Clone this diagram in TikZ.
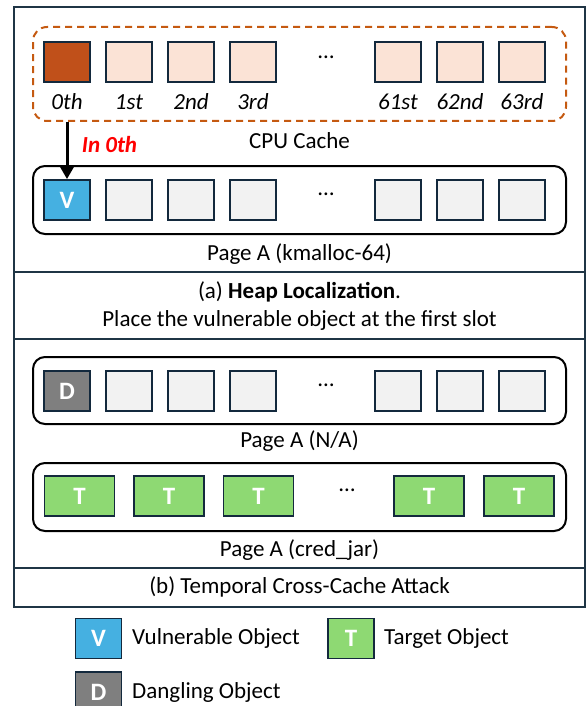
\documentclass[tikz,border=0pt]{standalone}
\usepackage{fontspec}
\setmainfont{Carlito}
\usetikzlibrary{arrows.meta}
\definecolor{slotedge}{HTML}{13293D}
\definecolor{cachefill}{HTML}{FBE3D6}
\definecolor{cachehot}{HTML}{C0501A}
\definecolor{cachedash}{HTML}{C55A11}
\definecolor{slotgrey}{HTML}{F2F2F2}
\definecolor{vblue}{HTML}{45B0E1}
\definecolor{tgreen}{HTML}{8ED973}
\definecolor{dgrey}{HTML}{7F7F7F}
\definecolor{framec}{HTML}{1F3545}
\newcommand{\bigtext}{\fontsize{23}{27}\selectfont}
\tikzset{
  slot/.style={draw=slotedge, line width=1.8pt, fill=slotgrey, minimum width=46pt,
    minimum height=40pt, inner sep=0pt, text=white, font=\fontsize{25}{29}\selectfont\bfseries},
  wideslot/.style={slot, minimum width=70pt, fill=tgreen},
  slotlabel/.style={font=\bigtext\itshape, inner sep=0pt},
  txt/.style={font=\bigtext, inner sep=0pt},
  pagebox/.style={draw=black, line width=2pt, rounded corners=12pt, minimum width=533pt,
    inner sep=0pt},
  framebar/.style={draw=framec, line width=1.6pt},
}
\begin{document}
\begin{tikzpicture}[x=1pt, y=-1pt]
\useasboundingbox (0,0) rectangle (587,706);

% outer frame with section separators
\draw[framebar] (14,7) rectangle (585,607);
\draw[framebar] (14,272) -- (585,272);
\draw[framebar] (14,339) -- (585,339);
\draw[framebar] (14,568) -- (585,568);

% ---------- (a) CPU cache ----------
\node[draw=cachedash, line width=2pt, dash pattern=on 7pt off 5pt, rounded corners=14pt,
  minimum width=533pt, minimum height=94pt, inner sep=0pt] (cache) at (299.5,74) {};
\node[slot, fill=cachehot] (c0) at (67,62) {};
\node[slot, fill=cachefill] (c1) at (129,62) {};
\node[slot, fill=cachefill] (c2) at (191,62) {};
\node[slot, fill=cachefill] (c3) at (253,62) {};
\node[txt] (cdots) at (326,57) {…};
\node[slot, fill=cachefill] (c61) at (398,62) {};
\node[slot, fill=cachefill] (c62) at (460,62) {};
\node[slot, fill=cachefill] (c63) at (522,62) {};
\foreach \n/\lab in {c0/0th, c1/1st, c2/2nd, c3/3rd, c61/61st, c62/62nd, c63/63rd}
  \node[slotlabel] (\n l) at ([yshift=-40pt]\n) {\lab};
\node[txt] (cachecap) at (299.5,141) {CPU Cache};

% ---------- (a) page kmalloc-64 ----------
\node[pagebox, minimum height=68pt] (pageA) at (299.5,200) {};
\node[slot, fill=vblue] (v0) at (67,200) {V};
\node[slot] (a1) at (129,200) {};
\node[slot] (a2) at (191,200) {};
\node[slot] (a3) at (253,200) {};
\node[txt] (adots) at (326,194) {…};
\node[slot] (a61) at (398,200) {};
\node[slot] (a62) at (460,200) {};
\node[slot] (a63) at (522,200) {};
\node[txt] (pageAcap) at (299.5,254) {Page A (kmalloc-64)};

\coordinate (arrowtop) at (c0 |- cache.south);
\draw[line width=3pt, -{Triangle[length=13pt, width=14pt]}] (arrowtop) -- (v0.north);
\node[font=\fontsize{23}{27}\selectfont\bfseries\itshape, text=red, inner sep=0pt]
  (inzero) at (109.5,145) {In 0th};

\node[txt] (capa1) at (299.5,292) {(a) \textbf{Heap Localization}.};
\node[txt] (capa2) at (299.5,320) {Place the vulnerable object at the first slot};

% ---------- (b) page after free ----------
\node[pagebox, minimum height=67pt] (pageB) at (299.5,390.5) {};
\node[slot, fill=dgrey] (d0) at (67,391) {D};
\node[slot] (b1) at (129,391) {};
\node[slot] (b2) at (191,391) {};
\node[slot] (b3) at (253,391) {};
\node[txt] (bdots) at (326,385) {…};
\node[slot] (b61) at (398,391) {};
\node[slot] (b62) at (460,391) {};
\node[slot] (b63) at (522,391) {};
\node[txt] (pageBcap) at (299.5,441) {Page A (N/A)};

% ---------- (b) page reused by cred_jar ----------
\node[pagebox, minimum height=68pt] (pageC) at (299.5,497) {};
\node[wideslot] (t0) at (79.5,496) {T};
\node[wideslot] (t1) at (169,496) {T};
\node[wideslot] (t2) at (258.5,496) {T};
\node[txt] (tdots) at (347,490) {…};
\node[wideslot] (t3) at (429,496) {T};
\node[wideslot] (t4) at (519,496) {T};
\node[txt] (pageCcap) at (299.5,550) {Page A (cred\_jar)};

\node[txt] (capb) at (299.5,587) {(b) Temporal Cross-Cache Attack};

% ---------- legend ----------
\node[slot, fill=vblue] (legv) at (98.5,638.5) {V};
\node[txt, anchor=west] (legvt) at (132,638.5) {Vulnerable Object};
\node[slot, fill=tgreen] (legt) at (351,638.5) {T};
\node[txt, anchor=west] (legtt) at (384,638.5) {Target Object};
\node[slot, fill=dgrey] (legd) at (98.5,692) {D};
\node[txt, anchor=west] (legdt) at (132,692) {Dangling Object};
\end{tikzpicture}
\end{document}
